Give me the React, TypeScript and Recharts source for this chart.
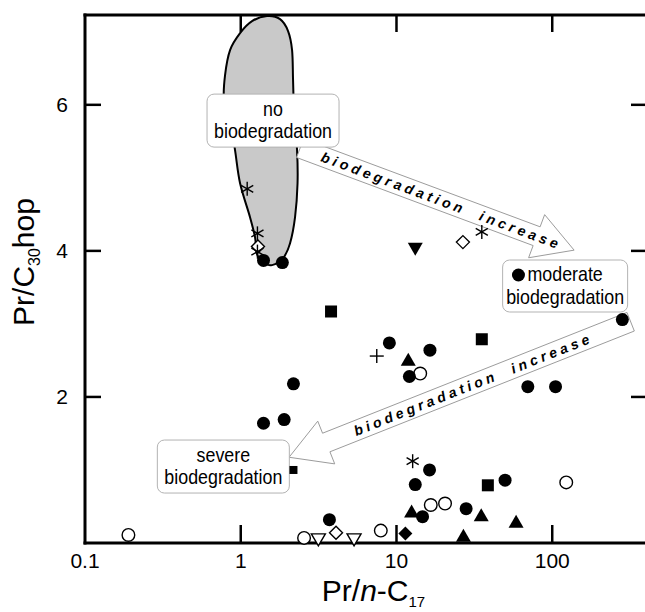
import React from 'react';
import { ScatterChart, Scatter, XAxis, YAxis } from 'recharts';

// ---------- axes ----------
const X_DOMAIN: [number, number] = [0.1, 400];
const Y_DOMAIN: [number, number] = [0, 7.23];
const X_TICKS = [0.1, 1, 10, 100];
const Y_TICKS = [2, 4, 6];

// ---------- data (Pr/n-C17, Pr/C30hop) ----------
const filledCircles = [
  { x: 1.40, y: 3.87 }, { x: 1.85, y: 3.84 }, { x: 2.18, y: 2.18 }, { x: 1.40, y: 1.64 },
  { x: 1.90, y: 1.69 }, { x: 9.0, y: 2.74 }, { x: 16.4, y: 2.64 }, { x: 12.1, y: 2.28 },
  { x: 60.7, y: 3.67 }, { x: 69.7, y: 2.14 }, { x: 105, y: 2.14 }, { x: 282, y: 3.06 },
  { x: 49.8, y: 0.86 }, { x: 28.0, y: 0.47 }, { x: 16.3, y: 1.0 }, { x: 13.2, y: 0.8 },
  { x: 14.7, y: 0.36 }, { x: 3.71, y: 0.32 },
];
const filledSquares = [{ x: 3.8, y: 3.17 }, { x: 35.3, y: 2.79 }, { x: 38.6, y: 0.79 }];
const smallSquares = [{ x: 2.18, y: 1.0 }];
const filledTriangles = [
  { x: 11.9, y: 2.51 }, { x: 12.5, y: 0.43 }, { x: 35.0, y: 0.38 }, { x: 58.6, y: 0.29 }, { x: 26.9, y: 0.1 },
];
const filledDownTriangles = [{ x: 13.2, y: 4.03 }];
const openCircles = [
  { x: 14.2, y: 2.32 }, { x: 123, y: 0.83 }, { x: 20.5, y: 0.54 }, { x: 16.6, y: 0.52 },
  { x: 7.93, y: 0.17 }, { x: 2.55, y: 0.07 }, { x: 0.19, y: 0.11 },
];
const openDownTriangles = [{ x: 3.15, y: 0.05 }, { x: 5.34, y: 0.05 }];
const openDiamonds = [{ x: 26.7, y: 4.12 }, { x: 4.09, y: 0.14 }, { x: 1.29, y: 4.06 }];
const filledDiamonds = [{ x: 11.4, y: 0.13 }];
const asterisks = [
  { x: 1.10, y: 4.85 }, { x: 1.28, y: 4.24 }, { x: 1.28, y: 3.99 }, { x: 35.3, y: 4.26 }, { x: 12.7, y: 1.12 },
];
const plusSigns = [{ x: 7.47, y: 2.56 }];

// "no biodegradation" field outline
const noBiodegradationField = [
  { x: 1.475, y: 7.215 }, { x: 1.788, y: 7.173 }, { x: 2.013, y: 7.01 }, { x: 2.136, y: 6.75 },
  { x: 2.167, y: 6.34 }, { x: 2.199, y: 5.928 }, { x: 2.299, y: 5.38 }, { x: 2.316, y: 4.927 },
  { x: 2.232, y: 4.462 }, { x: 2.073, y: 4.105 }, { x: 1.869, y: 3.9 }, { x: 1.589, y: 3.805 },
  { x: 1.37, y: 3.845 }, { x: 1.267, y: 3.968 }, { x: 1.235, y: 4.188 }, { x: 1.147, y: 4.462 },
  { x: 0.99, y: 4.927 }, { x: 0.919, y: 5.38 }, { x: 0.854, y: 5.79 }, { x: 0.781, y: 6.064 },
  { x: 0.793, y: 6.407 }, { x: 0.854, y: 6.75 }, { x: 0.99, y: 6.982 }, { x: 1.182, y: 7.146 },
];

// annotation arrows: [tail, tip]
const arrowToModerate = [{ x: 2.404, y: 5.407 }, { x: 138.2, y: 4.01 }];
const arrowToSevere = [{ x: 318.8, y: 3.03 }, { x: 2.043, y: 1.174 }];
const ARROW_TEXT = 'biodegradation\u00a0\u00a0increase';

// annotation boxes
const boxNoBio = [{ x: 1.612, y: 5.784 }];
const boxModerate = [{ x: 121.0, y: 3.519 }];
const boxSevere = [{ x: 0.773, y: 1.047 }];
const boxNoBioLines = ['no', 'biodegradation'];
const boxModerateLines = ['moderate', 'biodegradation'];
const boxSevereLines = ['severe', 'biodegradation'];

const FONT = '"Liberation Sans", Arial, Helvetica, sans-serif';

// ---------- helpers ----------
function closedSmoothPath(pts: { x: number; y: number }[]) {
  const n = pts.length;
  let d = `M${pts[0].x},${pts[0].y}`;
  for (let i = 0; i < n; i++) {
    const p0 = pts[(i - 1 + n) % n];
    const p1 = pts[i];
    const p2 = pts[(i + 1) % n];
    const p3 = pts[(i + 2) % n];
    const c1x = p1.x + (p2.x - p0.x) / 6;
    const c1y = p1.y + (p2.y - p0.y) / 6;
    const c2x = p2.x - (p3.x - p1.x) / 6;
    const c2y = p2.y - (p3.y - p1.y) / 6;
    d += ` C${c1x},${c1y} ${c2x},${c2y} ${p2.x},${p2.y}`;
  }
  return d + ' Z';
}

const fieldLine = (props: any) => {
  const pts = (props.points || []).filter((p: any) => p && p.x != null && p.y != null);
  if (pts.length < 3) return <g />;
  return <path d={closedSmoothPath(pts)} fill="#c9c9c9" stroke="#000" strokeWidth={2} />;
};

const arrowLine = (text: string, t: number) => (props: any) => {
  const pts = props.points || [];
  if (pts.length < 2) return <g />;
  const T = pts[0];
  const P = pts[1];
  const dx = P.x - T.x;
  const dy = P.y - T.y;
  const len = Math.hypot(dx, dy);
  const ux = dx / len;
  const uy = dy / len;
  const nx = -uy;
  const ny = ux;
  const W = 10;
  const H = 23;
  const L = 40;
  const bx = P.x - ux * L;
  const by = P.y - uy * L;
  const poly = [
    [T.x + nx * W, T.y + ny * W],
    [bx + nx * W, by + ny * W],
    [bx + nx * H, by + ny * H],
    [P.x, P.y],
    [bx - nx * H, by - ny * H],
    [bx - nx * W, by - ny * W],
    [T.x - nx * W, T.y - ny * W],
  ];
  let ang = (Math.atan2(dy, dx) * 180) / Math.PI;
  if (ang > 90) ang -= 180;
  if (ang < -90) ang += 180;
  const cx = T.x + dx * t;
  const cy = T.y + dy * t;
  return (
    <g>
      <polygon points={poly.map((p) => p.join(',')).join(' ')} fill="#fff" stroke="#9c9c9c" strokeWidth={1} />
      <text
        transform={`translate(${cx},${cy}) rotate(${ang})`}
        textAnchor="middle"
        dy={5}
        fontSize={14}
        fontWeight="bold"
        fontStyle="italic"
        fill="#000"
        textLength={252}
        lengthAdjust="spacing"
      >
        {text}
      </text>
    </g>
  );
};

const boxShape = (lines: string[], w: number, h: number) => (p: any) => (
  <g>
    <rect x={p.cx - w / 2} y={p.cy - h / 2} width={w} height={h} rx={7} ry={7} fill="#fff" stroke="#b3b3b3" strokeWidth={1} />
    <text transform={`translate(${p.cx},${p.cy - 5}) scale(0.85,1)`} textAnchor="middle" fontSize={21} fill="#000">
      {lines[0]}
    </text>
    <text transform={`translate(${p.cx},${p.cy + 17.5}) scale(0.85,1)`} textAnchor="middle" fontSize={21} fill="#000">
      {lines[1]}
    </text>
  </g>
);

const none = () => <g />;

const shapes = {
  filledCircle: (p: any) => <circle cx={p.cx} cy={p.cy} r={6.5} fill="#000" />,
  openCircle: (p: any) => <circle cx={p.cx} cy={p.cy} r={6.3} fill="#fff" stroke="#000" strokeWidth={1.4} />,
  filledSquare: (p: any) => <rect x={p.cx - 6} y={p.cy - 6} width={12} height={12} fill="#000" />,
  smallSquare: (p: any) => <rect x={p.cx - 4} y={p.cy - 4} width={8} height={8} fill="#000" />,
  filledTriangle: (p: any) => (
    <polygon points={`${p.cx},${p.cy - 7} ${p.cx + 7.5},${p.cy + 6} ${p.cx - 7.5},${p.cy + 6}`} fill="#000" />
  ),
  filledDownTriangle: (p: any) => (
    <polygon points={`${p.cx - 7.5},${p.cy - 6} ${p.cx + 7.5},${p.cy - 6} ${p.cx},${p.cy + 7}`} fill="#000" />
  ),
  openDownTriangle: (p: any) => (
    <polygon
      points={`${p.cx - 7},${p.cy - 5.5} ${p.cx + 7},${p.cy - 5.5} ${p.cx},${p.cy + 6.5}`}
      fill="#fff"
      stroke="#000"
      strokeWidth={1.4}
    />
  ),
  openDiamond: (p: any) => (
    <polygon
      points={`${p.cx},${p.cy - 6.5} ${p.cx + 6.5},${p.cy} ${p.cx},${p.cy + 6.5} ${p.cx - 6.5},${p.cy}`}
      fill="#fff"
      stroke="#000"
      strokeWidth={1.4}
    />
  ),
  filledDiamond: (p: any) => (
    <polygon points={`${p.cx},${p.cy - 7} ${p.cx + 7},${p.cy} ${p.cx},${p.cy + 7} ${p.cx - 7},${p.cy}`} fill="#000" />
  ),
  asterisk: (p: any) => {
    const r = 7;
    const a = r * Math.cos(Math.PI / 6);
    const b = r * Math.sin(Math.PI / 6);
    return (
      <g stroke="#000" strokeWidth={1.4}>
        <line x1={p.cx} y1={p.cy - r} x2={p.cx} y2={p.cy + r} />
        <line x1={p.cx - a} y1={p.cy - b} x2={p.cx + a} y2={p.cy + b} />
        <line x1={p.cx - a} y1={p.cy + b} x2={p.cx + a} y2={p.cy - b} />
      </g>
    );
  },
  plus: (p: any) => (
    <g stroke="#000" strokeWidth={1.4}>
      <line x1={p.cx - 7} y1={p.cy} x2={p.cx + 7} y2={p.cy} />
      <line x1={p.cx} y1={p.cy - 7} x2={p.cx} y2={p.cy + 7} />
    </g>
  ),
};

const fmt = (v: number) => (v < 1 ? String(v) : String(Math.round(v)));

const BottomTick = (props: any) => {
  const { x, y, payload } = props;
  const v = payload.value;
  return (
    <g>
      {v > X_DOMAIN[0] && <line x1={x} y1={y} x2={x} y2={y - 18} stroke="#000" strokeWidth={2.5} />}
      <text x={x} y={y + 25} textAnchor="middle" fontSize={21} fill="#000">
        {fmt(v)}
      </text>
    </g>
  );
};

const TopTick = (props: any) => {
  const { x, y, payload } = props;
  if (payload.value <= X_DOMAIN[0]) return <g />;
  return <line x1={x} y1={y} x2={x} y2={y + 17} stroke="#000" strokeWidth={2.5} />;
};

const LeftTick = (props: any) => {
  const { x, y, payload } = props;
  return (
    <g>
      <line x1={x} y1={y} x2={x + 16} y2={y} stroke="#000" strokeWidth={2.5} />
      <text x={x - 17} y={y + 7.5} textAnchor="end" fontSize={21} fill="#000">
        {payload.value}
      </text>
    </g>
  );
};

const RightTick = (props: any) => {
  const { x, y } = props;
  return <line x1={x} y1={y} x2={x - 15} y2={y} stroke="#000" strokeWidth={2.5} />;
};

const XLabel = (props: any) => {
  const vb = props.viewBox || {};
  const cx = vb.x + vb.width / 2 + 8;
  const y = vb.y + 58;
  return (
    <text x={cx} y={y} textAnchor="middle" fontSize={30} fill="#000">
      Pr/<tspan fontStyle="italic">n</tspan>-C
      <tspan fontSize={15} dy={6}>
        17
      </tspan>
    </text>
  );
};

const YLabel = (props: any) => {
  const vb = props.viewBox || {};
  const cy = vb.y + vb.height / 2 - 17;
  const x = vb.x + vb.width - 51;
  return (
    <text transform={`translate(${x},${cy}) rotate(-90)`} textAnchor="middle" fontSize={30} fill="#000">
      Pr/C
      <tspan fontSize={16} dy={6}>
        30
      </tspan>
      <tspan dy={-6}>hop</tspan>
    </text>
  );
};

const AX = { xAxisId: 'b', yAxisId: 'l' };

export default function App() {
  return (
    <div style={{ position: 'absolute', left: 0, top: 0, width: 645, height: 612, overflow: 'hidden', background: '#fff' }}>
      <ScatterChart
        width={650}
        height={612}
        margin={{ top: 14, right: 3, bottom: 68, left: 84 }}
        style={{ fontFamily: FONT }}
      >
        <Scatter {...AX} data={noBiodegradationField} shape={none} line={fieldLine} isAnimationActive={false} />
        <Scatter {...AX} data={arrowToModerate} shape={none} line={arrowLine(ARROW_TEXT, 0.51)} isAnimationActive={false} />
        <Scatter {...AX} data={arrowToSevere} shape={none} line={arrowLine(ARROW_TEXT, 0.466)} isAnimationActive={false} />
        <Scatter {...AX} data={boxNoBio} shape={boxShape(boxNoBioLines, 132, 53)} isAnimationActive={false} />
        <Scatter {...AX} data={boxModerate} shape={boxShape(boxModerateLines, 125, 52)} isAnimationActive={false} />
        <Scatter {...AX} data={boxSevere} shape={boxShape(boxSevereLines, 132, 53)} isAnimationActive={false} />

        <Scatter {...AX} data={openCircles} shape={shapes.openCircle} isAnimationActive={false} />
        <Scatter {...AX} data={openDownTriangles} shape={shapes.openDownTriangle} isAnimationActive={false} />
        <Scatter {...AX} data={openDiamonds} shape={shapes.openDiamond} isAnimationActive={false} />
        <Scatter {...AX} data={asterisks} shape={shapes.asterisk} isAnimationActive={false} />
        <Scatter {...AX} data={plusSigns} shape={shapes.plus} isAnimationActive={false} />
        <Scatter {...AX} data={filledCircles} shape={shapes.filledCircle} isAnimationActive={false} />
        <Scatter {...AX} data={filledSquares} shape={shapes.filledSquare} isAnimationActive={false} />
        <Scatter {...AX} data={smallSquares} shape={shapes.smallSquare} isAnimationActive={false} />
        <Scatter {...AX} data={filledTriangles} shape={shapes.filledTriangle} isAnimationActive={false} />
        <Scatter {...AX} data={filledDownTriangles} shape={shapes.filledDownTriangle} isAnimationActive={false} />
        <Scatter {...AX} data={filledDiamonds} shape={shapes.filledDiamond} isAnimationActive={false} />

        <XAxis
          xAxisId="b"
          type="number"
          dataKey="x"
          scale="log"
          domain={X_DOMAIN}
          ticks={X_TICKS}
          interval={0}
          height={1}
          tickSize={0}
          tickMargin={0}
          axisLine={{ stroke: '#000', strokeWidth: 3, strokeLinecap: 'square' }}
          tickLine={false}
          tick={(p: any) => <BottomTick {...p} />}
          label={{ content: (p: any) => <XLabel {...p} /> }}
        />
        <XAxis
          xAxisId="t"
          orientation="top"
          type="number"
          dataKey="x"
          scale="log"
          domain={X_DOMAIN}
          allowDataOverflow
          ticks={X_TICKS}
          interval={0}
          height={1}
          tickSize={0}
          tickMargin={0}
          axisLine={{ stroke: '#000', strokeWidth: 3, strokeLinecap: 'square' }}
          tickLine={false}
          tick={(p: any) => <TopTick {...p} />}
        />
        <YAxis
          yAxisId="l"
          type="number"
          dataKey="y"
          domain={Y_DOMAIN}
          ticks={Y_TICKS}
          interval={0}
          width={1}
          tickSize={0}
          tickMargin={0}
          axisLine={{ stroke: '#000', strokeWidth: 3, strokeLinecap: 'square' }}
          tickLine={false}
          tick={(p: any) => <LeftTick {...p} />}
          label={{ content: (p: any) => <YLabel {...p} /> }}
        />
        <YAxis
          yAxisId="r"
          orientation="right"
          type="number"
          dataKey="y"
          domain={Y_DOMAIN}
          allowDataOverflow
          ticks={Y_TICKS}
          interval={0}
          width={1}
          tickSize={0}
          tickMargin={0}
          axisLine={false}
          tickLine={false}
          tick={(p: any) => <RightTick {...p} />}
        />
      </ScatterChart>
    </div>
  );
}
